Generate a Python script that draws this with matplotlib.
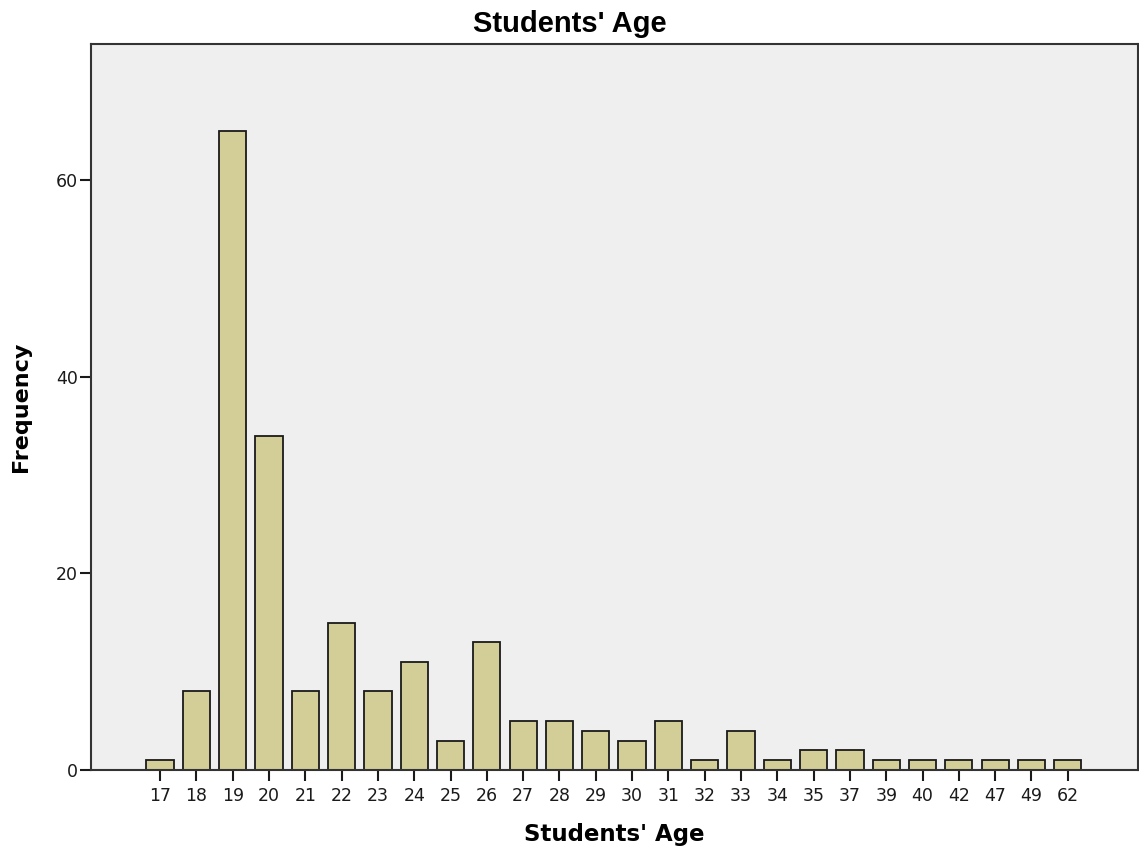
import numpy as np
import matplotlib.pyplot as plt

ages = ['17', '18', '19', '20', '21', '22', '23', '24', '25', '26', '27', '28', '29',
        '30', '31', '32', '33', '34', '35', '37', '39', '40', '42', '47', '49', '62']
freq = [1, 8, 65, 34, 8, 15, 8, 11, 3, 13, 5, 5, 4,
        3, 5, 1, 4, 1, 2, 2, 1, 1, 1, 1, 1, 1]
yticks = [0, 20, 40, 60]

fig = plt.figure(figsize=(11.39, 8.51), dpi=100)
ax = fig.add_axes([0.08, 0.095, 0.919, 0.853])
ax.set_facecolor('#EFEFEF')

x = np.arange(len(ages))
ax.bar(x, freq, width=0.75, color='#D3CE97', edgecolor='#1a1a1a', linewidth=1.3)

ax.set_xlim(-1.9, len(ages) - 1 + 1.93)
ax.set_ylim(0, 73.8)
ax.set_xticks(x)
ax.set_xticklabels(ages, fontsize=12.5)
ax.set_yticks(yticks)
ax.set_yticklabels([str(v) for v in yticks], fontsize=12.5)
ax.tick_params(direction='out', length=8, width=1.5, color='#1a1a1a', labelcolor='#1a1a1a')
ax.tick_params(axis='x', pad=4)
ax.tick_params(axis='y', pad=1.5)

for s in ax.spines.values():
    s.set_linewidth(1.5)
    s.set_color('#333333')

# title is centred on the figure, not the plot area
ax.set_title("Students' Age", fontsize=21, fontweight='bold', pad=9,
             family='Liberation Sans', x=(0.5 - 0.08) / 0.919)
ax.set_xlabel("Students' Age", fontsize=16.5, fontweight='bold', labelpad=13)
ax.set_ylabel('Frequency', fontsize=16, fontweight='bold', labelpad=18)

fig.savefig('out.png', dpi=100)
